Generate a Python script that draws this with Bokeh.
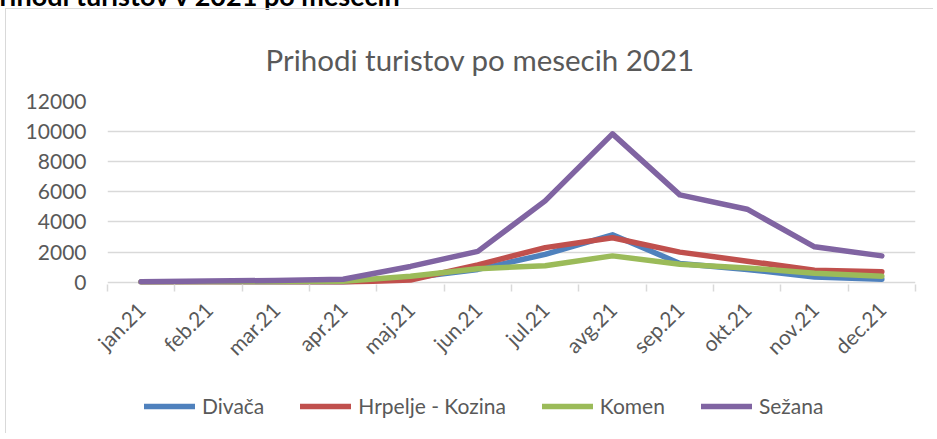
import math
from bokeh.plotting import figure
from bokeh.models import (ColumnDataSource, Range1d, FixedTicker, Legend, LegendItem, Div)
from bokeh.layouts import column
from bokeh.embed import file_html
from bokeh.resources import INLINE

months = ["jan.21", "feb.21", "mar.21", "apr.21", "maj.21", "jun.21",
          "jul.21", "avg.21", "sep.21", "okt.21", "nov.21", "dec.21"]
divaca = [20, 30, 20, 10, 300, 850, 1850, 3150, 1250, 850, 350, 200]
hrpelje = [10, 10, 20, 0, 150, 1150, 2300, 2950, 2000, 1400, 800, 700]
komen = [20, 30, 40, 60, 400, 900, 1100, 1750, 1200, 950, 600, 400]
sezana = [40, 80, 120, 200, 1050, 2050, 5400, 9850, 5800, 4850, 2350, 1750]
y_ticks = [0, 2000, 4000, 6000, 8000, 10000, 12000]

series = [("Divača", divaca, "#4f81bd"),
          ("Hrpelje - Kozina", hrpelje, "#c0504d"),
          ("Komen", komen, "#9bbb59"),
          ("Sežana", sezana, "#8064a2")]

FONT = "Lato"
TXT = "#595959"
GRID = "#d9d9d9"
BORDER = {"border-left": "1px solid #d9d9d9"}

xs = list(range(len(months)))

p = figure(output_backend="svg", toolbar_location=None,
           width=928, height=375,
           x_range=Range1d(-0.5, len(months) - 0.5),
           y_range=Range1d(-150, 12000),
           min_border_left=101, min_border_right=19,
           min_border_top=92, min_border_bottom=100,
           title="Prihodi turistov po mesecih 2021",
           margin=(8, 0, 0, 5),
           styles={"border-left": "1px solid #d9d9d9", "border-top": "1px solid #d9d9d9"})
p.outline_line_color = None
p.background_fill_color = "white"
p.border_fill_color = "white"

p.title.align = "left"
p.title.vertical_align = "top"
p.title.offset = 158
p.title.text_font = FONT
p.title.text_font_style = "normal"
p.title.text_font_size = "29.5px"
p.title.text_color = TXT
p.title.standoff = 46

sources = []
for name, vals, col in series:
    src = ColumnDataSource(dict(x=xs, y=vals))
    sources.append(src)
    p.line("x", "y", source=src, line_color=col, line_width=5.5,
           line_join="round", line_cap="round")

# x axis
xa = p.xaxis[0]
xa.ticker = FixedTicker(ticks=xs, minor_ticks=[i - 0.5 for i in range(len(months) + 1)])
xa.major_label_overrides = {i: m for i, m in enumerate(months)}
xa.major_label_orientation = math.pi / 4
xa.major_tick_line_color = None
xa.major_tick_out = 0
xa.major_tick_in = 0
xa.minor_tick_line_color = GRID
xa.minor_tick_line_width = 1.5
xa.minor_tick_out = 7
xa.minor_tick_in = 0
xa.axis_line_color = None
xa.major_label_text_font = FONT
xa.major_label_text_font_size = "21px"
xa.major_label_text_color = TXT
xa.major_label_standoff = 14

# y axis
ya = p.yaxis[0]
ya.ticker = FixedTicker(ticks=y_ticks)
ya.axis_line_color = None
ya.major_tick_line_color = None
ya.minor_tick_line_color = None
ya.major_label_text_font = FONT
ya.major_label_text_font_size = "21px"
ya.major_label_text_color = TXT
ya.major_label_standoff = 15

p.xgrid.grid_line_color = None
p.ygrid.ticker = FixedTicker(ticks=y_ticks)
p.ygrid.grid_line_color = GRID
p.ygrid.grid_line_width = 1.5

# legend strip (separate small figure below the chart; its lines lie outside its view)
lf = figure(output_backend="svg", toolbar_location=None,
            width=928, height=50,
            x_range=Range1d(0, 1), y_range=Range1d(100000, 100001),
            x_axis_location=None, y_axis_location=None,
            min_border=0, margin=(0, 0, 0, 5), styles=BORDER)
lf.outline_line_color = None
lf.grid.visible = False
lf.border_fill_color = "white"

items = []
for (name, vals, col), src in zip(series, sources):
    r = lf.line("x", "y", source=src, line_color=col, line_width=5.5, line_cap="round")
    items.append(LegendItem(label=name, renderers=[r]))

legend = Legend(items=items, orientation="horizontal", location=(37, 15),
                glyph_width=51, glyph_height=20, label_standoff=7, spacing=36,
                padding=0, margin=0, border_line_color=None,
                background_fill_alpha=0,
                label_text_font=FONT, label_text_font_size="21px",
                label_text_color=TXT)
lf.add_layout(legend, "center")

hdr = Div(text="Prihodi turistov v 2021 po mesecih", width=600, height=27,
          styles={"position": "absolute", "top": "-23px", "left": "-22px",
                  "font-family": "Lato", "font-weight": "bold", "font-size": "27px",
                  "line-height": "27px", "color": "#000000", "white-space": "nowrap"})

layout = column(hdr, p, lf, spacing=0)

open("out.html", "w").write(file_html(layout, INLINE))
